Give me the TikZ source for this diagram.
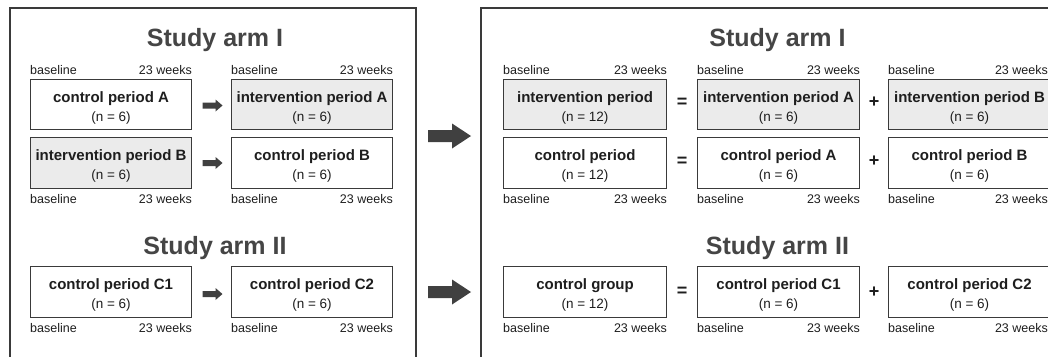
\documentclass[tikz,border=0pt]{standalone}
\usepackage{fontspec}
\setmainfont{Liberation Sans}
\usetikzlibrary{calc}
\definecolor{edge}{HTML}{3A3A3A}
\definecolor{grayfill}{HTML}{EBEBEB}
\definecolor{ttlcol}{HTML}{454545}
\definecolor{arrcol}{HTML}{404040}
\definecolor{txtcol}{HTML}{1E1E1E}
\tikzset{
 panel/.style={draw=edge, line width=2pt},
 pbox/.style={draw=edge, line width=1pt, fill=white, inner sep=0pt},
 shaded/.style={fill=grayfill},
 boxttl/.style={font=\fontsize{15}{15}\selectfont\bfseries, text=txtcol, inner sep=0pt},
 ntxt/.style={font=\fontsize{13.5}{13.5}\selectfont, text=txtcol, inner sep=0pt},
 lbl/.style={font=\fontsize{12.5}{12.5}\selectfont, text=txtcol, inner sep=0pt},
 armttl/.style={font=\fontsize{25}{25}\selectfont\bfseries, text=ttlcol, inner sep=0pt},
 opsym/.style={font=\fontsize{18}{18}\selectfont\bfseries, text=txtcol, inner sep=0pt},
 arrfill/.style={fill=arrcol},
}
\newcommand{\mkbox}[8]{%
 \node[pbox,#6,minimum width=#4pt,minimum height=#5pt,anchor=north west] (#1) at (#2,#3) {};
 \node[boxttl,anchor=base] (#1-t) at ($(#1.north)+(0,23.5)$) {#7};
 \node[ntxt,anchor=base] (#1-n) at ($(#1.north)+(0,42.5)$) {#8};
}
\newcommand{\toplbl}[2][0]{%
 \node[lbl,anchor=base west] (#2-tl) at ($(#2.north west)+(0,-5)$) {baseline};
 \node[lbl,anchor=base east] (#2-tr) at ($(#2.north east)+(#1,-5)$) {23 weeks};
}
\newcommand{\botlbl}[2][0]{%
 \node[lbl,anchor=base west] (#2-bl) at ($(#2.south west)+(0,14)$) {baseline};
 \node[lbl,anchor=base east] (#2-br) at ($(#2.south east)+(#1,14)$) {23 weeks};
}
\newcommand{\smallarrow}[1]{%
 \fill[arrfill] (#1) ++(-9,-3) -- ++(13,0) -- ++(0,-3) -- ++(7,6) -- ++(-7,6) -- ++(0,-3) -- ++(-13,0) -- cycle;
}
\newcommand{\bigarrow}[1]{%
 \fill[arrfill] (#1) ++(-21.5,-6) -- ++(24,0) -- ++(0,-6.5) -- ++(19,12.5) -- ++(-19,12.5) -- ++(0,-6.5) -- ++(-24,0) -- cycle;
}
\begin{document}
\begin{tikzpicture}[x=1pt,y=-1pt]
\useasboundingbox (0,0) rectangle (1048,356);
\clip (0,0) rectangle (1048,356);
\fill[white] (0,0) rectangle (1048,356);
% panels
\draw[panel] (10,8) rectangle (416,420);
\draw[panel] (481,8) rectangle (1100,420);
% titles
\node[armttl,anchor=base] (armIL) at (215,46.5) {Study arm I};
\node[armttl,anchor=base] (armIIL) at (215,254) {Study arm II};
\node[armttl,anchor=base] (armIR) at (777.5,46.5) {Study arm I};
\node[armttl,anchor=base] (armIIR) at (777.5,254) {Study arm II};
% left panel boxes
\mkbox{cpA}{30}{79}{161}{50}{}{control period A}{(n = 6)}
\mkbox{ipA}{231}{79}{161}{50}{shaded}{intervention period A}{(n = 6)}
\mkbox{ipB}{30}{137}{161}{51}{shaded}{intervention period B}{(n = 6)}
\mkbox{cpB}{231}{137}{161}{51}{}{control period B}{(n = 6)}
\mkbox{cCa}{30}{266}{161}{51}{}{control period C1}{(n = 6)}
\mkbox{cCb}{231}{266}{161}{51}{}{control period C2}{(n = 6)}
\toplbl{cpA}\toplbl{ipA}
\botlbl{ipB}\botlbl{cpB}
\botlbl{cCa}\botlbl{cCb}
% left panel arrows
\coordinate (sa1) at ($(cpA.east)!0.5!(ipA.west)+(0,1)$);
\coordinate (sa2) at ($(ipB.east)!0.5!(cpB.west)+(0,0)$);
\coordinate (sa3) at ($(cCa.east)!0.5!(cCb.west)+(0,2)$);
\smallarrow{sa1}\smallarrow{sa2}\smallarrow{sa3}
% right panel boxes
\mkbox{ip}{503}{79}{163}{50}{shaded}{intervention period}{(n = 12)}
\mkbox{ipAr}{697}{79}{162}{50}{shaded}{intervention period A}{(n = 6)}
\mkbox{ipBr}{888}{79}{162}{50}{shaded}{intervention period B}{(n = 6)}
\mkbox{cp}{503}{137}{163}{51}{}{control period}{(n = 12)}
\mkbox{cpAr}{697}{137}{162}{51}{}{control period A}{(n = 6)}
\mkbox{cpBr}{888}{137}{162}{51}{}{control period B}{(n = 6)}
\mkbox{cg}{503}{266}{163}{51}{}{control group}{(n = 12)}
\mkbox{cCar}{697}{266}{162}{51}{}{control period C1}{(n = 6)}
\mkbox{cCbr}{888}{266}{162}{51}{}{control period C2}{(n = 6)}
\toplbl{ip}\toplbl{ipAr}\toplbl[-3]{ipBr}
\botlbl{cp}\botlbl{cpAr}\botlbl[-3]{cpBr}
\botlbl{cg}\botlbl{cCar}\botlbl[-3]{cCbr}
% operators
\node[opsym] (eq1) at ($(ip.east)!0.5!(ipAr.west)+(0,-2)$) {=};
\node[opsym] (pl1) at ($(ipAr.east)!0.5!(ipBr.west)+(0,-2)$) {+};
\node[opsym] (eq2) at ($(cp.east)!0.5!(cpAr.west)+(0,-1.5)$) {=};
\node[opsym] (pl2) at ($(cpAr.east)!0.5!(cpBr.west)+(0,-2)$) {+};
\node[opsym] (eq3) at ($(cg.east)!0.5!(cCar.west)+(0,-0.5)$) {=};
\node[opsym] (pl3) at ($(cCar.east)!0.5!(cCbr.west)+(0,0)$) {+};
% big arrows between panels
\coordinate (ba1) at (449.5,136);
\coordinate (ba2) at (449.5,292);
\bigarrow{ba1}\bigarrow{ba2}
\end{tikzpicture}
\end{document}
